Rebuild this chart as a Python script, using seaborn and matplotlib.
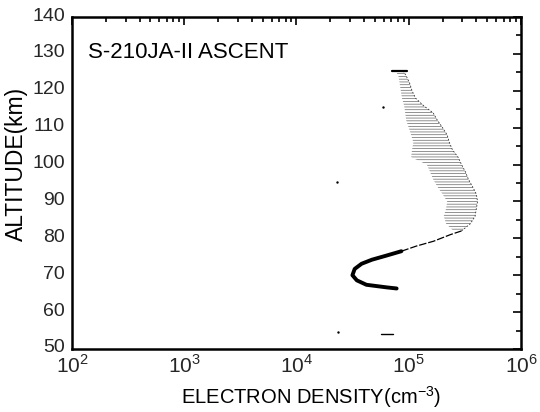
import numpy as np
import pandas as pd
import matplotlib
matplotlib.use("Agg")
import matplotlib.pyplot as plt
import matplotlib.transforms as mtransforms
import seaborn as sns

# ---- data ----
# lower, well-defined profile (thick line)
low_alt = [66.4, 66.7, 67.4, 68.6, 70.0, 71.7, 73.1, 74.2, 75.3, 76.5]
low_ne = [7.8e4, 6.35e4, 4.2e4, 3.45e4, 3.15e4, 3.3e4, 3.8e4, 4.7e4, 6.3e4, 8.6e4]
# thin continuation
mid_alt = [76.5, 77.9, 79.2, 81.0, 82.0]
mid_ne = [8.6e4, 1.17e5, 1.66e5, 2.35e5, 2.95e5]
# scattered upper band: left and right edges
band_alt = [82, 84, 86, 88, 90, 92, 94, 96, 98, 100, 102, 104, 106, 108,
            110, 112, 114, 116, 118, 120, 122, 124, 125.5]
band_right = [2.95e5, 3.55e5, 3.9e5, 4.0e5, 4.1e5, 4.0e5, 3.7e5, 3.4e5, 3.2e5,
              2.95e5, 2.75e5, 2.45e5, 2.3e5, 2.2e5, 2.0e5, 1.8e5, 1.65e5,
              1.35e5, 1.15e5, 1.07e5, 1.02e5, 9.5e4, 8.9e4]
band_left = [2.5e5, 2.15e5, 2.05e5, 2.15e5, 2.2e5, 2.0e5, 1.8e5, 1.65e5, 1.55e5,
             1.45e5, 1.05e5, 1.07e5, 1.1e5, 1.05e5, 1.0e5, 9.5e4, 9.3e4, 9.1e4,
             8.7e4, 8.5e4, 8.3e4, 8.1e4, 7.6e4]
top_alt = [125.3, 125.3]
top_ne = [7.05e4, 9.6e4]
stray_alt = [95.4, 115.6, 54.5]
stray_ne = [2.3e4, 5.9e4, 2.35e4]
dash_alt = [54.1, 54.1]
dash_ne = [5.7e4, 7.3e4]

x_ticks = [1e2, 1e3, 1e4, 1e5, 1e6]
x_ticklabels = [r"$10^2$", r"$10^3$", r"$10^4$", r"$10^5$", r"$10^6$"]
y_ticks = list(range(50, 141, 10))

title_text = "S-210JA-II ASCENT"
xlabel = r"ELECTRON DENSITY(cm$^{-3}$)"
ylabel = "ALTITUDE(km)"

# ---- figure ----
sns.set_theme(style="white")
plt.rcParams["font.family"] = ["Liberation Sans", "DejaVu Sans"]
plt.rcParams["mathtext.fontset"] = "custom"
plt.rcParams["mathtext.rm"] = "Liberation Sans"
plt.rcParams["hatch.linewidth"] = 0.5
plt.rcParams["hatch.color"] = "#666666"

fig = plt.figure(figsize=(5.40, 4.12), dpi=100)
ax = fig.add_axes([0.1333, 0.153, 0.8315, 0.8057])

ax.set_xscale("log")
ax.set_xlim(1e2, 1e6)
ax.set_ylim(50, 140)

band = pd.DataFrame({"alt": band_alt, "left": band_left, "right": band_right})
ax.fill_betweenx(band["alt"], band["left"], band["right"], facecolor="none",
                 edgecolor="#666666", hatch="------", linewidth=0)

sns.lineplot(x=low_ne, y=low_alt, sort=False, estimator=None, color="black",
             linewidth=2.8, ax=ax)
sns.lineplot(x=mid_ne, y=mid_alt, sort=False, estimator=None, color="black",
             linewidth=0.9, linestyle=(0, (6, 1.5)), ax=ax)
sns.lineplot(x=band_right, y=band_alt, sort=False, estimator=None, color="#333333",
             linewidth=0.6, linestyle=(0, (2, 2)), ax=ax)
sns.lineplot(x=top_ne, y=top_alt, sort=False, estimator=None, color="black",
             linewidth=1.6, ax=ax)
sns.lineplot(x=dash_ne, y=dash_alt, sort=False, estimator=None, color="black",
             linewidth=1.0, ax=ax)
sns.scatterplot(x=stray_ne, y=stray_alt, color="black", s=3, linewidth=0, ax=ax)

ax.set_xticks(x_ticks)
ax.set_xticklabels(x_ticklabels)
ax.set_yticks(y_ticks)
ax.set_yticks(list(range(55, 140, 10)), minor=True)
ax.xaxis.set_minor_locator(matplotlib.ticker.LogLocator(base=10, subs=np.arange(2, 10)))
ax.xaxis.set_minor_formatter(matplotlib.ticker.NullFormatter())

ax.tick_params(axis="both", which="both", direction="in", top=True, right=True,
               color="black", width=1.2)
ax.tick_params(axis="both", which="major", length=6)
ax.tick_params(axis="both", which="minor", length=3.5)
ax.tick_params(axis="y", which="major", labelsize=14, pad=5)
ax.tick_params(axis="x", which="major", labelsize=15, pad=4)
shift_up = mtransforms.ScaledTranslation(0, 3 / 100, fig.dpi_scale_trans)
for lab in ax.get_yticklabels():
    lab.set_transform(lab.get_transform() + shift_up)

for sp in ax.spines.values():
    sp.set_color("black")
    sp.set_linewidth(1.8)

ax.text(0.036, 0.893, title_text, transform=ax.transAxes, fontsize=16,
        ha="left", va="center", color="black")
ax.set_xlabel(xlabel, fontsize=14.5, color="black")
ax.xaxis.set_label_coords(0.532, -0.105)
ax.set_ylabel(ylabel, fontsize=16.5, color="black")
ax.yaxis.set_label_coords(-0.097, 0.556)
ax.grid(False)

fig.savefig("out.png", dpi=100, facecolor="white")
